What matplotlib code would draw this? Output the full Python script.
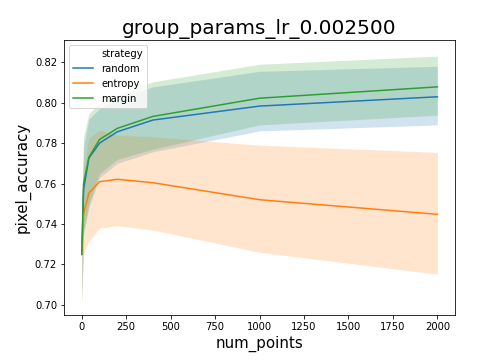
import matplotlib
matplotlib.use("Agg")
import matplotlib.pyplot as plt
from matplotlib.lines import Line2D

num_points = [0, 10, 40, 100, 200, 400, 1000, 2000]

random_mean = [0.725, 0.757, 0.7726, 0.780, 0.7856, 0.7914, 0.7983, 0.8029]
random_low = [0.701, 0.735, 0.748, 0.763, 0.770, 0.7757, 0.786, 0.789]
random_high = [0.749, 0.778, 0.792, 0.797, 0.802, 0.8078, 0.8155, 0.818]

entropy_mean = [0.725, 0.745, 0.7553, 0.7609, 0.7621, 0.7604, 0.752, 0.7448]
entropy_low = [0.701, 0.7257, 0.7313, 0.738, 0.7392, 0.737, 0.726, 0.7152]
entropy_high = [0.749, 0.768, 0.7825, 0.7864, 0.784, 0.7831, 0.779, 0.7754]

margin_mean = [0.725, 0.760, 0.773, 0.7818, 0.7873, 0.7932, 0.8022, 0.8078]
margin_low = [0.701, 0.737, 0.750, 0.765, 0.772, 0.777, 0.789, 0.7938]
margin_high = [0.749, 0.783, 0.7947, 0.7996, 0.8037, 0.8103, 0.819, 0.823]

series = [
    ("random", random_mean, random_low, random_high, "#1f77b4"),
    ("entropy", entropy_mean, entropy_low, entropy_high, "#ff7f0e"),
    ("margin", margin_mean, margin_low, margin_high, "#2ca02c"),
]

fig = plt.figure(figsize=(7, 5), dpi=72)
ax = fig.add_axes([0.127, 0.125, 0.776, 0.764])

handles = [Line2D([], [], linestyle="none", label="strategy")]
for name, m, lo, hi, c in series:
    ax.fill_between(num_points, lo, hi, color=c, alpha=0.2, linewidth=0)
    ln, = ax.plot(num_points, m, color=c, linewidth=1.5, label=name)
    handles.append(ln)

ax.set_xlim(-100, 2100)
ax.set_ylim(0.695, 0.831)
ax.set_xticks([0, 250, 500, 750, 1000, 1250, 1500, 1750, 2000])
ax.set_yticks([0.70, 0.72, 0.74, 0.76, 0.78, 0.80, 0.82])
ax.tick_params(labelsize=10)
ax.set_xlabel("num_points", fontsize=15)
ax.set_ylabel("pixel_accuracy", fontsize=15)
ax.set_title("group_params_lr_0.002500", fontsize=20)
ax.legend(handles=handles, loc="upper left", fontsize=10)

fig.savefig("out.png", dpi=72)
